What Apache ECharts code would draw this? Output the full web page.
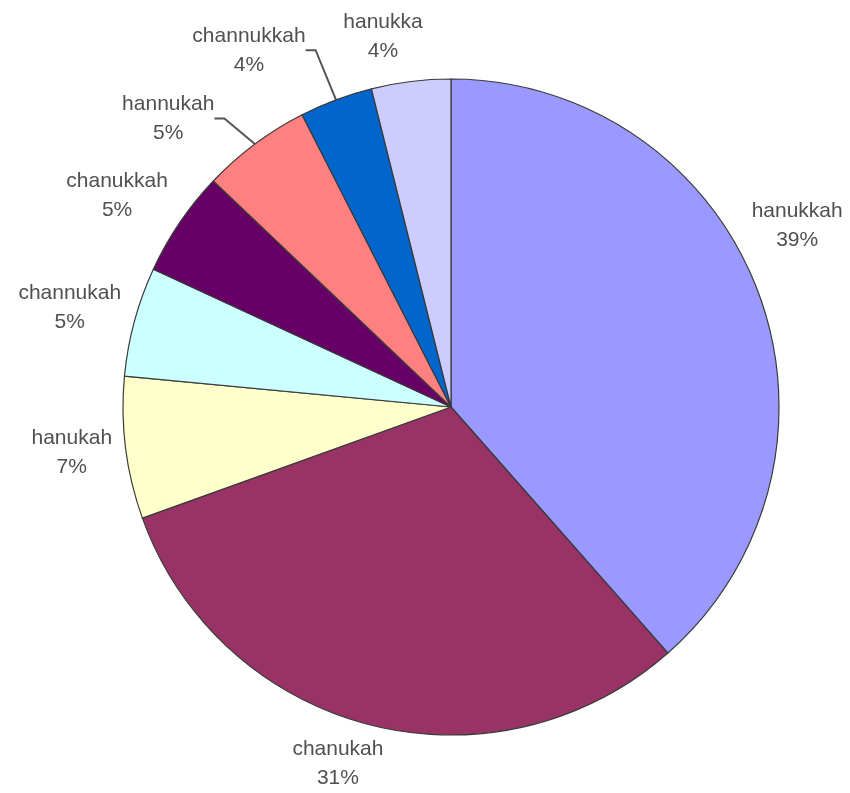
<!DOCTYPE html>
<html>
<head>
<meta charset="utf-8">
<script src="https://cdn.jsdelivr.net/npm/echarts@6/dist/echarts.min.js"></script>
<style>
html, body { margin: 0; padding: 0; background: #fff; }
#main { width: 850px; height: 793px; }
</style>
</head>
<body>
<div id="main"></div>
<script>
var names = ['hanukkah', 'chanukah', 'hanukah', 'channukah', 'chanukkah', 'hannukah', 'channukkah', 'hanukka'];
var values = [38.5, 31.0, 7.0, 5.4, 5.2, 5.4, 3.6, 3.9];
var colors = ['#9999ff', '#993366', '#ffffcc', '#ccffff', '#660066', '#ff8080', '#0066cc', '#ccccff'];
var leader = [false, false, false, false, false, true, true, false];

var cx = 451, cy = 407, r = 328;
// label placement: extra radius and angle shift (deg) from slice middle
var labelGap = [63, 46, 54, 66, 67, 76, 82, 48];
var labelTurn = [-7, 3.2, 0.3, -0.5, -1.9, -7.7, -9, -3.4];

var total = 0;
for (var i = 0; i < values.length; i++) total += values[i];

// mid angle of each slice, clockwise from 12 o'clock
function midAngle(idx) {
    var acc = 0;
    for (var k = 0; k < idx; k++) acc += values[k];
    return (acc + values[idx] / 2) / total * Math.PI * 2;
}

var dom = document.getElementById('main');
var myChart = echarts.init(dom);

var seriesData = [];
for (var i = 0; i < names.length; i++) {
    seriesData.push({
        name: names[i],
        value: values[i],
        itemStyle: { color: colors[i] },
        labelLine: { show: leader[i] }
    });
}

var option = {
    backgroundColor: '#ffffff',
    animation: false,
    series: [
        {
            type: 'pie',
            center: [cx, cy],
            radius: [0, r],
            startAngle: 90,
            clockwise: true,
            avoidLabelOverlap: false,
            data: seriesData,
            itemStyle: {
                borderColor: '#3a3a3a',
                borderWidth: 1.2
            },
            label: {
                show: true,
                position: 'outside',
                formatter: function (p) {
                    return p.name + '\n' + Math.round(p.percent) + '%';
                },
                fontFamily: 'Liberation Sans, Arial, sans-serif',
                fontSize: 21,
                lineHeight: 29,
                color: '#505050'
            },
            labelLine: {
                length: 10,
                length2: 10,
                lineStyle: { color: '#555', width: 2 }
            },
            labelLayout: function (params) {
                var i = params.dataIndex;
                var a = midAngle(i) + labelTurn[i] * Math.PI / 180;
                var d = r + labelGap[i];
                return {
                    x: cx + d * Math.sin(a),
                    y: cy - d * Math.cos(a),
                    align: 'center',
                    verticalAlign: 'middle'
                };
            }
        }
    ]
};
myChart.setOption(option);
</script>
</body>
</html>
